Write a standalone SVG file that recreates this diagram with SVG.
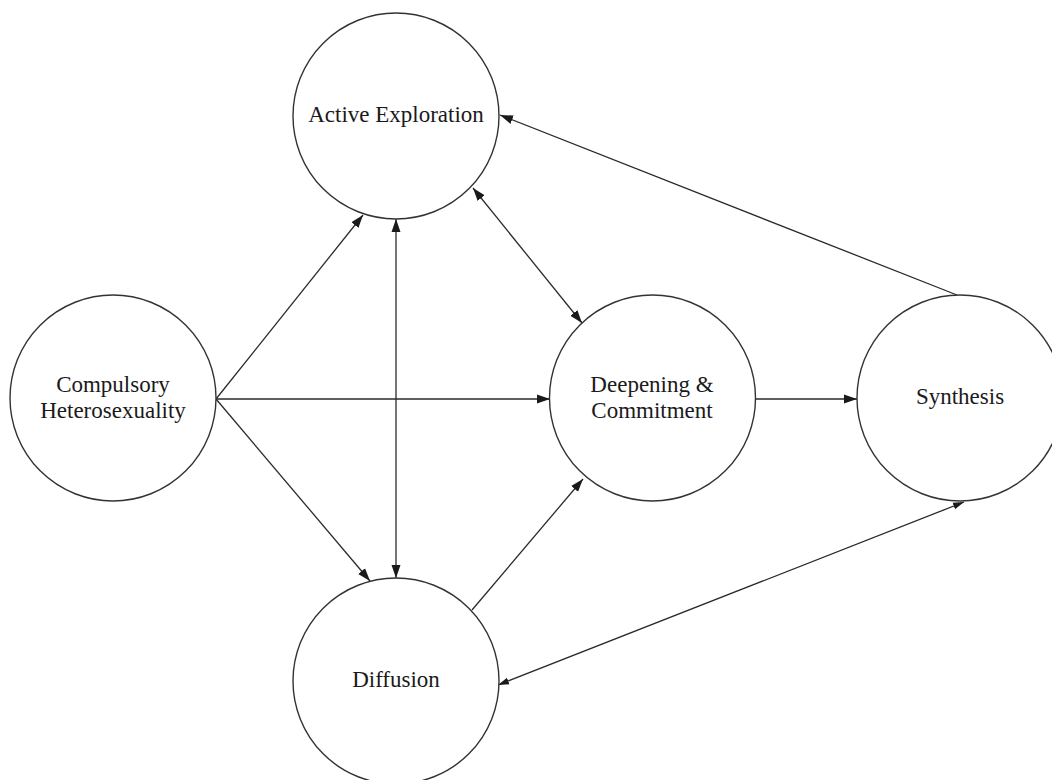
<svg xmlns="http://www.w3.org/2000/svg" width="1052" height="780" viewBox="0 0 1052 780">
<defs>
<style>
.node{fill:#fff;stroke:#333;stroke-width:1.4}
.lbl{font-family:"Liberation Serif","Times New Roman",serif;font-size:23px;fill:#1a1a1a;text-anchor:middle}
.edge{stroke:#2a2a2a;stroke-width:1.3;fill:none}
</style>
<marker id="ah" viewBox="0 0 13 10" refX="13" refY="5" markerWidth="13" markerHeight="10" markerUnits="userSpaceOnUse" orient="auto-start-reverse">
<path d="M0,0.5 L13,5 L0,9.5 z" fill="#1a1a1a"/>
</marker>
<marker id="ahs" viewBox="0 0 11 8" refX="11" refY="4" markerWidth="11" markerHeight="8" markerUnits="userSpaceOnUse" orient="auto-start-reverse">
<path d="M0,0.5 L11,4 L0,7.5 z" fill="#1a1a1a"/>
</marker>
</defs>
<rect width="1052" height="780" fill="#fff"/>
<g id="connectors">
<line class="edge" x1="216" y1="399" x2="363" y2="215" marker-end="url(#ah)"/>
<line class="edge" x1="216" y1="399" x2="550" y2="399" marker-end="url(#ah)"/>
<line class="edge" x1="216" y1="399" x2="370" y2="581" marker-end="url(#ah)"/>
<line class="edge" x1="396" y1="219" x2="396" y2="578" marker-start="url(#ah)" marker-end="url(#ah)"/>
<line class="edge" x1="473" y1="188" x2="582" y2="323" marker-start="url(#ah)" marker-end="url(#ah)"/>
<line class="edge" x1="755" y1="399" x2="857" y2="399" marker-end="url(#ah)"/>
<line class="edge" x1="957" y1="295" x2="500" y2="115" marker-end="url(#ah)"/>
<line class="edge" x1="472" y1="610" x2="583" y2="479" marker-end="url(#ah)"/>
<line class="edge" x1="498" y1="685" x2="964" y2="502" marker-start="url(#ahs)" marker-end="url(#ahs)"/>
</g>
<g id="active-exploration">
<circle class="node" cx="396" cy="116" r="103"/>
<text class="lbl" x="396" y="122">Active Exploration</text>
</g>
<g id="compulsory-heterosexuality">
<circle class="node" cx="113" cy="398" r="103"/>
<text class="lbl" x="113" y="392">Compulsory</text>
<text class="lbl" x="113" y="418">Heterosexuality</text>
</g>
<g id="deepening-commitment">
<circle class="node" cx="652.5" cy="398" r="103"/>
<text class="lbl" x="652" y="392">Deepening &amp;</text>
<text class="lbl" x="652" y="418">Commitment</text>
</g>
<g id="synthesis">
<circle class="node" cx="960" cy="398" r="103"/>
<text class="lbl" x="960" y="404">Synthesis</text>
</g>
<g id="diffusion">
<circle class="node" cx="396" cy="681" r="103"/>
<text class="lbl" x="396" y="687">Diffusion</text>
</g>
</svg>
